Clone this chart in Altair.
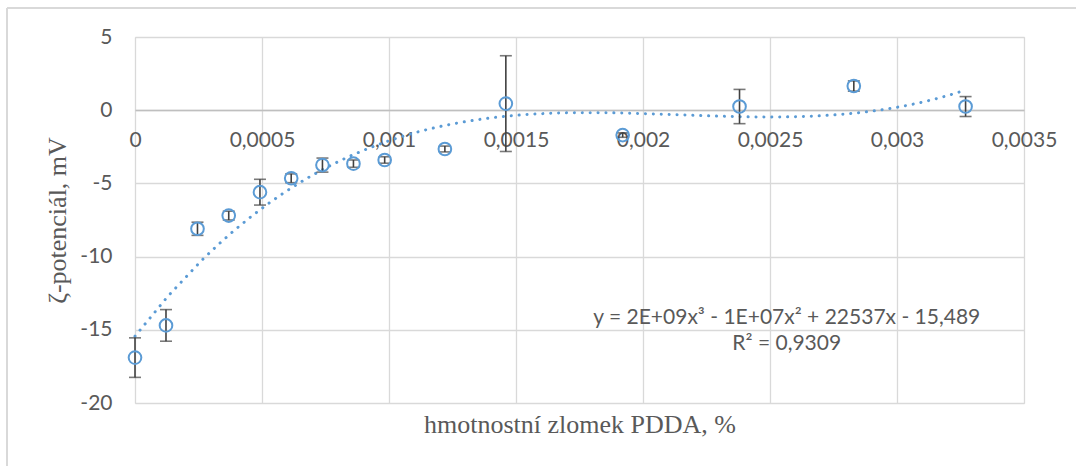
import altair as alt
import pandas as pd

# PDDA mass fraction (%) and measured zeta potential (mV) with standard deviations
mass_fraction = [0, 0.000122, 0.000246, 0.000369, 0.000492, 0.000615, 0.000738,
                 0.00086, 0.000983, 0.00122, 0.00146, 0.00192, 0.00238, 0.00283, 0.00327]
zeta = [-16.9, -14.7, -8.1, -7.2, -5.6, -4.65, -3.75, -3.65, -3.4, -2.65,
        0.45, -1.7, 0.25, 1.65, 0.25]
zeta_sd = [1.35, 1.08, 0.45, 0.3, 0.88, 0.3, 0.48, 0.25, 0.22, 0.2,
           3.27, 0.15, 1.17, 0.35, 0.68]

x_ticks = [0, 0.0005, 0.001, 0.0015, 0.002, 0.0025, 0.003, 0.0035]
y_ticks = [-20, -15, -10, -5, 0, 5]

equation_lines = ["y = 2E+09x³ - 1E+07x² + 22537x - 15,489", "R² = 0,9309"]
equation_x = [0.002566, 0.002566]
equation_y = [-14.2, -16.0]

df = pd.DataFrame({"x": mass_fraction, "y": zeta, "sd": zeta_sd})
df["lo"] = df["y"] - df["sd"]
df["hi"] = df["y"] + df["sd"]
eq_df = pd.DataFrame({"x": equation_x, "y": equation_y, "t": equation_lines})

W, H = 889, 366
GRID = "#D9D9D9"
TEXT = "#595959"
BLUE = "#5B9BD5"

x_scale = alt.Scale(domain=[0, 0.0035], nice=False, zero=False)
y_scale = alt.Scale(domain=[-20, 5], nice=False)

x_axis = alt.Axis(
    values=x_ticks, format=".4~f", labelExpr="replace(datum.label, '.', ',')",
    orient="bottom", offset=-293, grid=True, gridColor=GRID, gridWidth=1.3,
    domain=True, domainColor="#BFBFBF", domainWidth=1.3, ticks=False,
    labelPadding=19, labelFont="Lato", labelFontSize=21, labelColor=TEXT,
    labelFlush=False, labelOverlap=False,
    title="hmotnostní zlomek PDDA, %", titleFont="Liberation Serif",
    titleFontSize=26, titleFontWeight="normal", titleColor=TEXT,
    titleY=314, titleBaseline="middle", titleAlign="center",
)
y_axis = alt.Axis(
    values=y_ticks, labelExpr="'' + datum.value",
    grid=True, gridColor=GRID, gridWidth=1.3,
    domain=False, ticks=False, labelPadding=23,
    labelFont="Lato", labelFontSize=21, labelColor=TEXT,
    title="ζ-potenciál, mV", titleFont="Liberation Serif", titleFontSize=26,
    titleFontWeight="normal", titleColor=TEXT,
    titleX=-78, titleY=H / 2, titleAngle=270,
    titleBaseline="middle", titleAlign="center",
)

base = alt.Chart(df)

# axes carrier (invisible)
axes = base.mark_point(opacity=0).encode(
    x=alt.X("x:Q", scale=x_scale, axis=x_axis),
    y=alt.Y("y:Q", scale=y_scale, axis=y_axis),
)

trend = base.transform_regression(
    "x", "y", method="poly", order=3, extent=[0, 0.00327]
).mark_line(
    color=BLUE, strokeWidth=3, strokeDash=[0.1, 7.8], strokeCap="round"
).encode(x=alt.X("x:Q", scale=x_scale), y=alt.Y("y:Q", scale=y_scale))

err_rule = base.mark_rule(color="#404040", strokeWidth=1.6).encode(
    x=alt.X("x:Q", scale=x_scale),
    y=alt.Y("lo:Q", scale=y_scale),
    y2="hi:Q",
)
cap_lo = base.mark_tick(orient="horizontal", color="#404040", size=12,
                        thickness=1.6).encode(
    x=alt.X("x:Q", scale=x_scale), y=alt.Y("lo:Q", scale=y_scale))
cap_hi = base.mark_tick(orient="horizontal", color="#404040", size=12,
                        thickness=1.6).encode(
    x=alt.X("x:Q", scale=x_scale), y=alt.Y("hi:Q", scale=y_scale))

points = base.mark_point(shape="circle", filled=False, size=160,
                         strokeWidth=2, color=BLUE, opacity=1).encode(
    x=alt.X("x:Q", scale=x_scale), y=alt.Y("y:Q", scale=y_scale))

equation = alt.Chart(eq_df).mark_text(
    font="Lato", fontSize=21, color=TEXT, align="center", baseline="middle"
).encode(x=alt.X("x:Q", scale=x_scale), y=alt.Y("y:Q", scale=y_scale), text="t:N")

# chart-area frame (left and top edges)
frame_left = alt.Chart(df).mark_rule(color="#D9D9D9", strokeWidth=1.5).encode(
    x=alt.value(-128), y=alt.value(-29), y2=alt.value(H + 70))
frame_top = alt.Chart(df).mark_rule(color="#D9D9D9", strokeWidth=1.5).encode(
    x=alt.value(-128), x2=alt.value(W + 60), y=alt.value(-29))

chart = alt.layer(
    axes, frame_left, frame_top, trend, err_rule, cap_lo, cap_hi, points, equation
).properties(
    width=W, height=H,
    autosize=alt.AutoSizeParams(type="none"),
    padding={"left": 135, "top": 37, "right": 52, "bottom": 63},
).configure_view(stroke=None).configure(background="white")

chart.save("out.html", embed_options={"renderer": "svg", "actions": False})
